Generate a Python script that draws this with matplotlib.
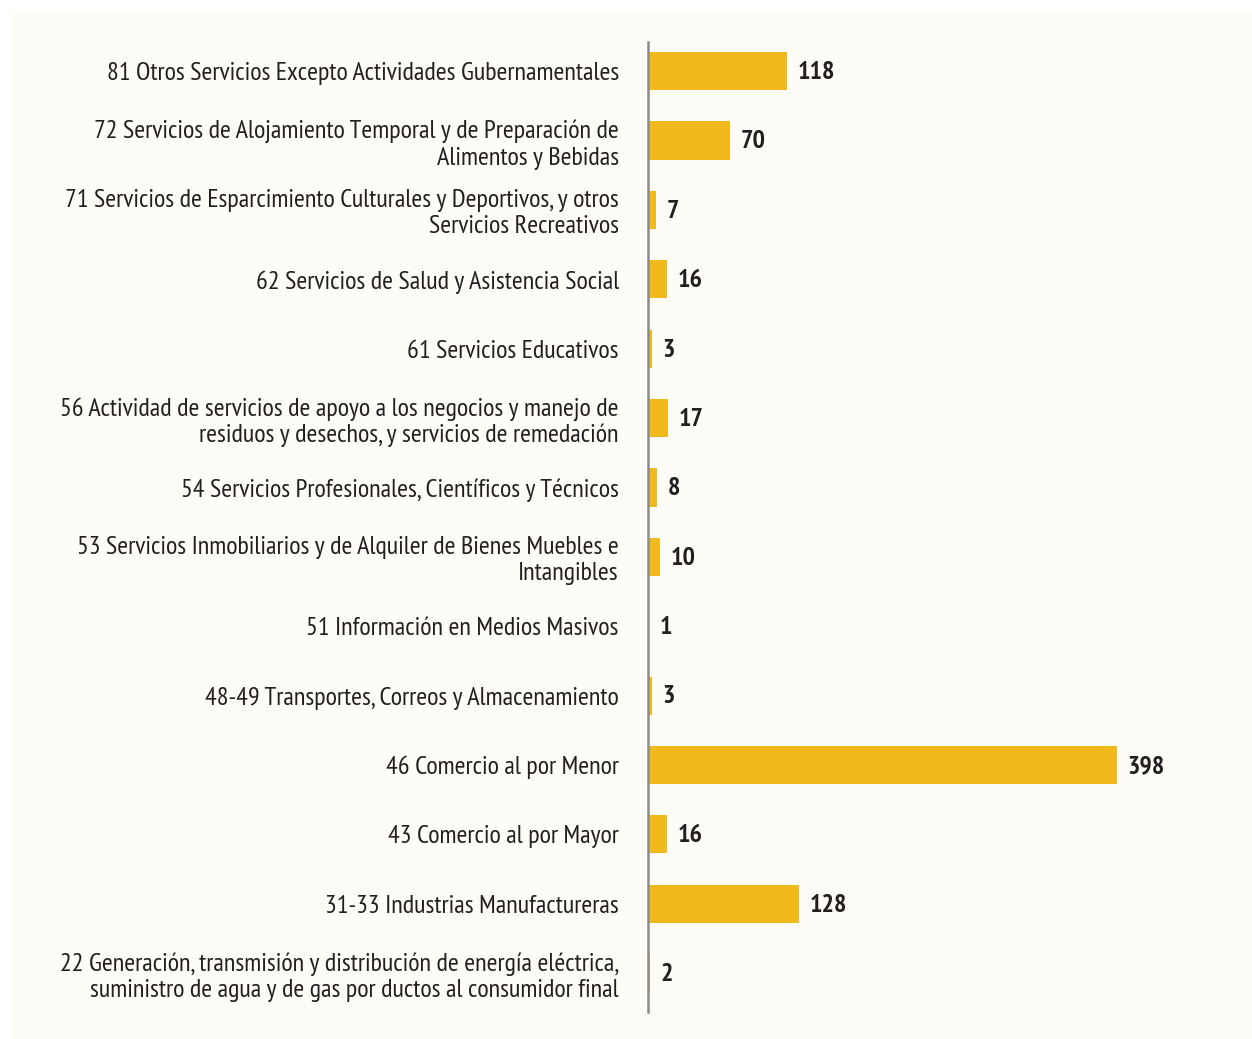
import matplotlib.pyplot as plt
from matplotlib.patches import Rectangle

categories = [
    "81 Otros Servicios Excepto Actividades Gubernamentales",
    "72 Servicios de Alojamiento Temporal y de Preparación de\nAlimentos y Bebidas",
    "71 Servicios de Esparcimiento Culturales y Deportivos, y otros\nServicios Recreativos",
    "62 Servicios de Salud y Asistencia Social",
    "61 Servicios Educativos",
    "56 Actividad de servicios de apoyo a los negocios y manejo de\nresiduos y desechos, y servicios de remedación",
    "54 Servicios Profesionales, Científicos y Técnicos",
    "53 Servicios Inmobiliarios y de Alquiler de Bienes Muebles e\nIntangibles",
    "51 Información en Medios Masivos",
    "48-49 Transportes, Correos y Almacenamiento",
    "46 Comercio al por Menor",
    "43 Comercio al por Mayor",
    "31-33 Industrias Manufactureras",
    "22 Generación, transmisión y distribución de energía eléctrica,\nsuministro de agua y de gas por ductos al consumidor final",
]
values = [118, 70, 7, 16, 3, 17, 8, 10, 1, 3, 398, 16, 128, 2]

plt.rcParams["font.family"] = ["PT Sans Narrow", "DejaVu Sans"]

bar_color = "#F0BA1C"
text_color = "#231F20"
bg = "#FDFCF7"

fig = plt.figure(figsize=(12.52, 10.39), dpi=100)
fig.patch.set_facecolor("white")
# fondo crema del panel
fig.patches.append(Rectangle((12 / 1252, 0), 1, 1 - 11 / 1039,
                             transform=fig.transFigure, color=bg, zorder=-10))

ax = fig.add_axes([648 / 1252, 27 / 1039, 530 / 1252, 970 / 1039])
ax.set_facecolor("none")

n = len(categories)
ypos = list(range(n - 1, -1, -1))
ax.barh(ypos, values, height=0.55, color=bar_color)
for y, v in zip(ypos, values):
    ax.annotate(str(v), (v, y), xytext=(7.5, -1), textcoords="offset points",
                va="center", ha="left", fontsize=18.8, fontweight="bold",
                color=text_color)

ax.set_xlim(0, 450)
ax.set_ylim(-0.56, n - 1 + 0.42)
ax.set_yticks(ypos)
ax.set_yticklabels(categories, fontsize=18.8, color=text_color, ha="right",
                   linespacing=1.17)
ax.tick_params(axis="y", length=0, pad=21)
ax.set_xticks([])
for s in ["top", "right", "bottom"]:
    ax.spines[s].set_visible(False)
ax.spines["left"].set_color("#8C8C8C")
ax.spines["left"].set_linewidth(1.8)

fig.savefig("out.png", dpi=100, facecolor=fig.get_facecolor())
